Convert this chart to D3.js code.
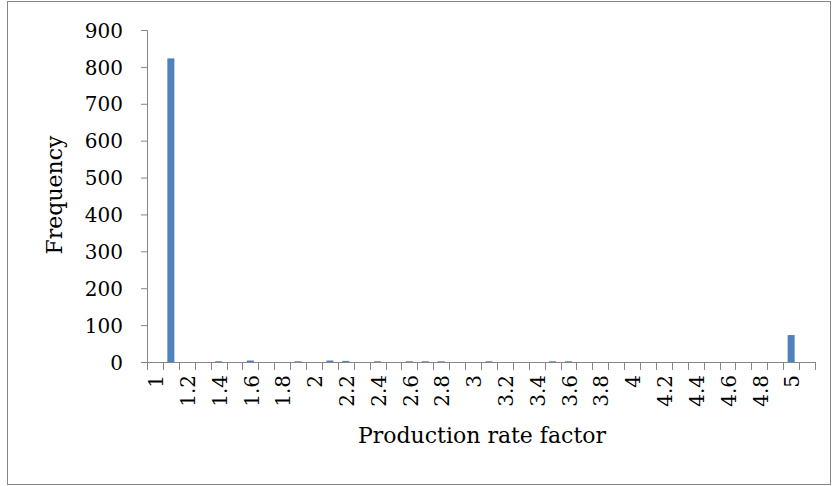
<!DOCTYPE html>
<html>
<head>
<meta charset="utf-8">
<script src="https://cdn.jsdelivr.net/npm/d3@7"></script>
<style>
  html, body { margin: 0; padding: 0; background: #fff; }
  svg text { font-family: "DejaVu Serif", serif; fill: #000; }
</style>
</head>
<body>
<svg id="chart" width="836" height="486"></svg>
<script>
const categories = ["1","1.1","1.2","1.3","1.4","1.5","1.6","1.7","1.8","1.9",
  "2","2.1","2.2","2.3","2.4","2.5","2.6","2.7","2.8","2.9",
  "3","3.1","3.2","3.3","3.4","3.5","3.6","3.7","3.8","3.9",
  "4","4.1","4.2","4.3","4.4","4.5","4.6","4.7","4.8","4.9",
  "5","More"];
const frequency = [0,823,0,0,2,0,4,0,0,2,
  0,4,3,0,2,0,2,2,2,0,
  0,2,0,0,0,2,2,0,0,0,
  0,0,0,0,0,0,0,0,0,0,
  73,0];
const xTickLabels = ["1","1.2","1.4","1.6","1.8","2","2.2","2.4","2.6","2.8",
  "3","3.2","3.4","3.6","3.8","4","4.2","4.4","4.6","4.8","5"];
const yTicks = [0,100,200,300,400,500,600,700,800,900];
const xTitle = "Production rate factor";
const yTitle = "Frequency";

const svg = d3.select("#chart");
const axisColor = "#868686";
const barColor = "#4F81BD";

// outer frame
svg.append("rect").attr("x", 7.5).attr("y", 1.5).attr("width", 823).attr("height", 483)
  .attr("fill", "#fff").attr("stroke", axisColor).attr("stroke-width", 1);

const plot = { left: 147, right: 815, top: 30, bottom: 362 };

const slot = d3.scaleBand().domain(categories).range([plot.left, plot.right]).padding(0);
const x = d3.scaleBand().domain(categories).range([plot.left, plot.right])
  .paddingInner(0.56).paddingOuter(0.28);
const y = d3.scaleLinear().domain([0, 900]).range([plot.bottom, plot.top]);

// bars
svg.append("g").selectAll("rect").data(categories).join("rect")
  .attr("x", d => x(d))
  .attr("width", x.bandwidth())
  .attr("y", (d, i) => y(frequency[i]))
  .attr("height", (d, i) => plot.bottom - y(frequency[i]))
  .attr("fill", barColor);

// y axis
const yAxis = svg.append("g").attr("transform", `translate(${plot.left},0)`)
  .call(d3.axisLeft(y).tickValues(yTicks).tickSize(6).tickPadding(18).tickFormat(d3.format("d")));
yAxis.select(".domain").attr("stroke", axisColor).attr("d", `M-6,${plot.top + 0.5}H0.5V${plot.bottom}`);
yAxis.selectAll(".tick line").attr("stroke", axisColor);
yAxis.selectAll(".tick text").style("font-size", "20px").attr("dy", "0.36em");

// x axis
const xAxis = svg.append("g").attr("transform", `translate(0,${plot.bottom})`)
  .call(d3.axisBottom(slot).tickSize(0).tickPadding(10)
    .tickFormat(d => xTickLabels.includes(d) ? d : ""));
xAxis.select(".domain").attr("stroke", axisColor).attr("d", `M${plot.left},0.5H${plot.right}`);
xAxis.selectAll(".tick text")
  .style("font-size", "20px")
  .attr("transform", "rotate(-90)")
  .attr("text-anchor", "end")
  .attr("x", -13).attr("y", 1).attr("dy", "0.36em");
// tick marks between categories
const boundaries = categories.map(c => slot(c)).concat([plot.right]);
svg.append("g").selectAll("line").data(boundaries).join("line")
  .attr("x1", d => Math.round(d) + 0.5).attr("x2", d => Math.round(d) + 0.5)
  .attr("y1", plot.bottom).attr("y2", plot.bottom + 8)
  .attr("stroke", axisColor);

// titles
svg.append("text").attr("x", (plot.left + plot.right) / 2 + 1).attr("y", 443)
  .attr("text-anchor", "middle").style("font-size", "22px").text(xTitle);
svg.append("text").attr("transform", `translate(62,195) rotate(-90)`)
  .attr("text-anchor", "middle").style("font-size", "22px").text(yTitle);
</script>
</body>
</html>
